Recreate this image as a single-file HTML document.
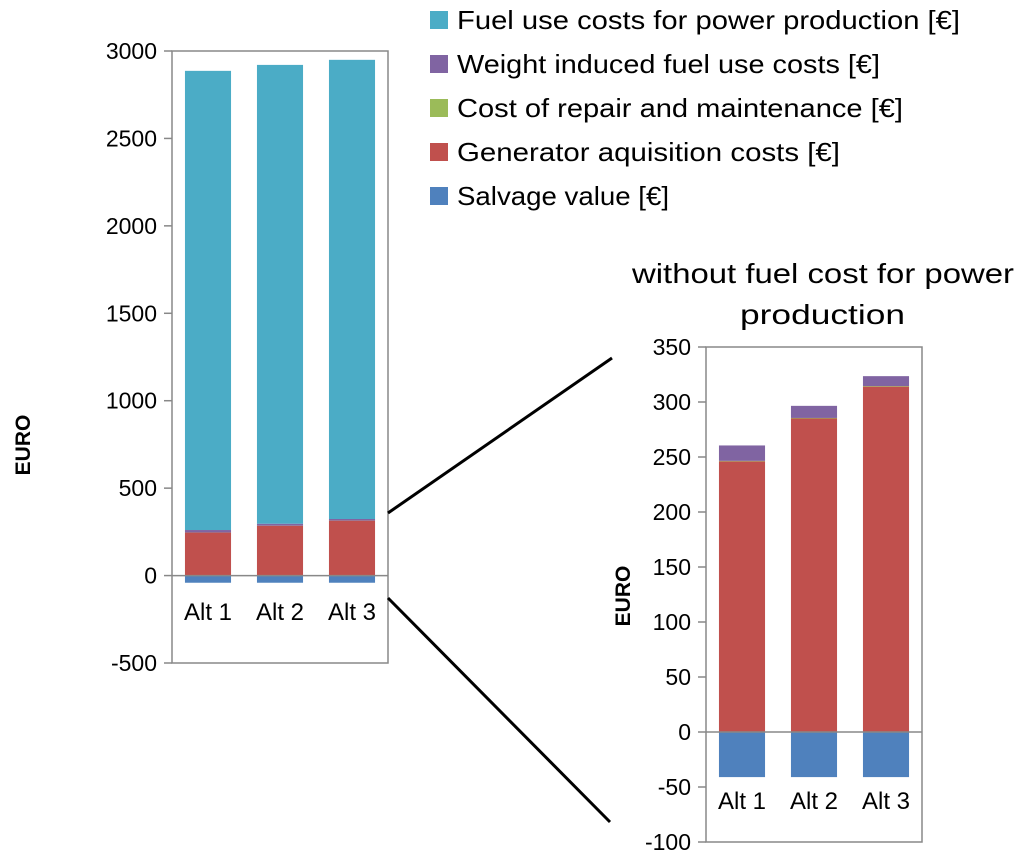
<!DOCTYPE html>
<html><head><meta charset="utf-8"><style>
body{margin:0;background:#fff;}
svg text{font-family:"Liberation Sans",sans-serif;fill:#000;}
</style></head><body>
<svg id="c" width="1024" height="856" xmlns="http://www.w3.org/2000/svg"></svg>
<script>
const categories=["Alt 1","Alt 2","Alt 3"];
const seriesNames=["Salvage value [€]","Generator aquisition costs [€]","Cost of repair and maintenance [€]","Weight induced fuel use costs [€]","Fuel use costs for power production [€]"];
const seriesColors=["#4f81bd","#c0504d","#9bbb59","#8064a2","#4bacc6"];
const salvage=[-41,-41,-41];
const generator=[246,285,314];
const repair=[0.5,0.5,0.5];
const weightFuel=[14,11,9];
const powerFuel=[2626,2624,2626];
const bigTicks=[3000,2500,2000,1500,1000,500,0,-500];
const smallTicks=[350,300,250,200,150,100,50,0,-50,-100];
const legendWidths=[212,383,446,423,503];

const NS="http://www.w3.org/2000/svg";
const svg=document.getElementById('c');
function el(t,a,txt){const e=document.createElementNS(NS,t);for(const k in a)e.setAttribute(k,a[k]);if(txt!==undefined)e.textContent=txt;svg.appendChild(e);return e;}

function drawChart(cfg,prefix){
  const y=v=>cfg.y0+(v-cfg.vmax)/(cfg.vmin-cfg.vmax)*(cfg.y1-cfg.y0);
  const box=el('rect',{x:cfg.x0,y:cfg.y0,width:cfg.x1-cfg.x0,height:cfg.y1-cfg.y0,fill:'none',stroke:'#888','stroke-width':1.5});
  
  cfg.ticks.forEach(t=>{
    const l=el('line',{x1:cfg.x0-8,x2:cfg.x0,y1:y(t),y2:y(t),stroke:'#888','stroke-width':1.5});
    
    const tx=el('text',{x:cfg.x0-15,y:y(t)+8,'text-anchor':'end','font-size':23},String(t));
    
  });
  const series=cfg.series;
  const slot=(cfg.x1-cfg.x0)/categories.length, bw=slot*0.64;
  categories.forEach((c,i)=>{
    const cx=cfg.x0+slot*(i+0.5);
    let pos=0;
    series.forEach((s,si)=>{
      const v=s[i];
      if(v<0){
        const r=el('rect',{x:cx-bw/2,y:y(0),width:bw,height:y(v)-y(0),fill:seriesColors[si]});
        
      } else {
        const r=el('rect',{x:cx-bw/2,y:y(pos+v),width:bw,height:y(pos)-y(pos+v),fill:seriesColors[si]});
        
        pos+=v;
      }
    });
    const lt=el('text',{x:cx,y:cfg.labelY,'text-anchor':'middle','font-size':24},c);
    
  });
  const z=el('line',{x1:cfg.x0,x2:cfg.x1,y1:y(0),y2:y(0),stroke:'#888','stroke-width':1.5});
  
  const yt=el('text',{x:cfg.titleX,y:cfg.titleY,'text-anchor':'middle','font-size':21,'font-weight':'bold',transform:`rotate(-90 ${cfg.titleX} ${cfg.titleY})`},'EURO');
  
}
drawChart({x0:172,x1:388,y0:51,y1:663,vmax:3000,vmin:-500,ticks:bigTicks,series:[salvage,generator,repair,weightFuel,powerFuel],labelY:620,titleX:30,titleY:445},'main');
drawChart({x0:706,x1:922,y0:347,y1:842,vmax:350,vmin:-100,ticks:smallTicks,series:[salvage,generator,repair,weightFuel],labelY:809,titleX:630,titleY:596},'zoom');

const t1=el('text',{x:632,y:283,'font-size':28,textLength:382,lengthAdjust:'spacingAndGlyphs'},'without fuel cost for power');

const t2=el('text',{x:740,y:324,'font-size':28,textLength:165,lengthAdjust:'spacingAndGlyphs'},'production');


const c1=el('line',{x1:388,y1:513,x2:612,y2:358,stroke:'#000','stroke-width':3});

const c2=el('line',{x1:388,y1:598,x2:610,y2:822,stroke:'#000','stroke-width':3});


[4,3,2,1,0].forEach((si,row)=>{
  const yy=20+row*44;
  const s=el('rect',{x:430,y:yy-9,width:18,height:18,fill:seriesColors[si]});
  
  const t=el('text',{x:457,y:yy+9,'font-size':26,textLength:legendWidths[si],lengthAdjust:'spacingAndGlyphs'},seriesNames[si]);
  
});
</script>
</body></html>
